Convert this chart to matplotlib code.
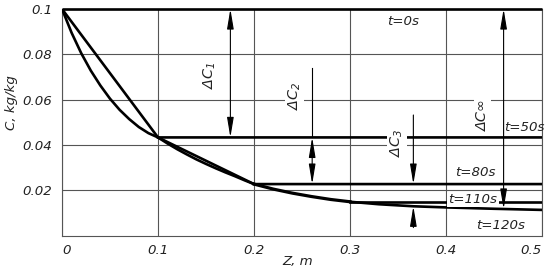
import matplotlib
matplotlib.use("Agg")
import matplotlib.pyplot as plt
from matplotlib import font_manager as fm

# ---------------- data ----------------
x_ticks = [0, 0.1, 0.2, 0.3, 0.4, 0.5]
x_tick_labels = ["0", "0.1", "0.2", "0.3", "0.4", "0.5"]
y_ticks = [0.02, 0.04, 0.06, 0.08, 0.1]
y_tick_labels = ["0.02", "0.04", "0.06", "0.08", "0.1"]

# t = 0 s
z_t0 = [0, 0.5]
c_t0 = [0.1, 0.1]
# t = 50 s
z_t50 = [0, 0.1, 0.5]
c_t50 = [0.1, 0.0433, 0.0433]
# common curved profile in first layer
z_seg1 = [0, 0.01, 0.02, 0.03, 0.04, 0.05, 0.06, 0.07, 0.08, 0.09, 0.1]
c_seg1 = [0.1, 0.0895, 0.0805, 0.0728, 0.0662, 0.0604, 0.0555, 0.0514, 0.0479, 0.0452, 0.0433]
# t = 80 s (after first layer)
z_t80 = [0.1, 0.2, 0.5]
c_t80 = [0.0433, 0.0227, 0.0227]
# curved profile in second layer (t = 110 s, 120 s)
z_seg2 = [0.1, 0.11, 0.12, 0.13, 0.14, 0.15, 0.16, 0.17, 0.18, 0.19, 0.2]
c_seg2 = [0.0433, 0.0406, 0.0381, 0.0358, 0.0336, 0.0316, 0.0297, 0.0279, 0.0262, 0.0244, 0.0227]
# third layer
z_seg3 = [0.2, 0.22, 0.24, 0.26, 0.28, 0.3]
c_seg3 = [0.0227, 0.0205, 0.0187, 0.0172, 0.0159, 0.0149]
# t = 110 s tail
z_t110 = [0.3, 0.5]
c_t110 = [0.0149, 0.0149]
# t = 120 s tail
z_t120 = [0.3, 0.33, 0.366, 0.4, 0.45, 0.5]
c_t120 = [0.0149, 0.0138, 0.0129, 0.0124, 0.0118, 0.0113]

# ---------------- fonts ----------------
names = {f.name for f in fm.fontManager.ttflist}
if "Liberation Sans Narrow" in names:
    FAM = ["Liberation Sans Narrow", "DejaVu Sans"]
    scale = 1.0
else:
    FAM = ["DejaVu Sans"]
    scale = 0.8
plt.rcParams["font.family"] = FAM
plt.rcParams["mathtext.fontset"] = "custom"
plt.rcParams["mathtext.it"] = FAM[0] + ":italic"
plt.rcParams["mathtext.rm"] = FAM[0] + ":italic"

TXT = "#222222"
GRID = "#555555"

fig = plt.figure(figsize=(5.5, 2.74), dpi=100)
ax = fig.add_axes([62 / 550, 1 - 235.5 / 274, 480 / 550, 226.5 / 274])
ax.set_xlim(0, 0.5)
ax.set_ylim(0, 0.1)

for s in ["left", "bottom", "right"]:
    ax.spines[s].set_color(GRID)
    ax.spines[s].set_linewidth(0.8)
ax.spines["top"].set_visible(False)

ax.set_xticks(x_ticks)
ax.set_xticklabels(x_tick_labels)
ax.set_yticks(y_ticks)
ax.set_yticklabels(y_tick_labels)
ax.tick_params(length=0, pad=7, labelsize=12 * scale, labelcolor=TXT)
for lab in ax.get_xticklabels() + ax.get_yticklabels():
    lab.set_fontstyle("italic")
ax.get_xticklabels()[-1].set_horizontalalignment("right")
ax.get_xticklabels()[0].set_horizontalalignment("left")
ax.tick_params(axis="x", pad=6)
ax.grid(True, color=GRID, linewidth=0.8)
ax.set_axisbelow(True)

LW = 1.9
K = "black"
ax.plot(z_t0, c_t0, color=K, lw=LW, clip_on=False, solid_capstyle="butt", zorder=3)
ax.plot(z_t50, c_t50, color=K, lw=LW, zorder=3)
ax.plot(z_seg1, c_seg1, color=K, lw=LW, zorder=3)
ax.plot(z_t80, c_t80, color=K, lw=LW, zorder=3)
ax.plot(z_seg2, c_seg2, color=K, lw=LW, zorder=3)
ax.plot(z_seg3, c_seg3, color=K, lw=LW + 0.4, zorder=3)
ax.plot(z_t110, c_t110, color=K, lw=LW, zorder=3)
ax.plot(z_t120, c_t120, color=K, lw=LW, zorder=3)

# ---------------- dimension arrows ----------------
def dbl(x, y1, y2):
    ax.annotate("", xy=(x, y2), xytext=(x, y1),
                arrowprops=dict(arrowstyle="<|-|>,head_length=1.2,head_width=0.2",
                                color=K, lw=0.8, shrinkA=0, shrinkB=0, mutation_scale=10),
                zorder=4)

def single(x, y_from, y_tip):
    ax.annotate("", xy=(x, y_tip), xytext=(x, y_from),
                arrowprops=dict(arrowstyle="-|>,head_length=1.2,head_width=0.2",
                                color=K, lw=0.8, shrinkA=0, shrinkB=0, mutation_scale=10),
                zorder=4)

dbl(0.1754, 0.1, 0.0433)            # dC1
ax.plot([0.2606, 0.2606], [0.0738, 0.0433], color=K, lw=0.8, zorder=4)
dbl(0.2606, 0.0433, 0.0227)         # dC2
single(0.366, 0.0532, 0.0227)       # dC3 upper
single(0.366, 0.0035, 0.0129)       # dC3 lower
dbl(0.46, 0.1, 0.0117)              # dC_inf

box = dict(facecolor="white", edgecolor="none", pad=1.0)
DS = 13 * scale
ax.text(0.154, 0.0709, r"$\Delta C_1$", rotation=90, ha="center", va="center",
        fontsize=DS, color=TXT, bbox=box, zorder=5)
ax.text(0.242, 0.0616, r"$\Delta C_2$", rotation=90, ha="center", va="center",
        fontsize=DS, color=TXT, bbox=box, zorder=5)
ax.text(0.349, 0.0408, r"$\Delta C_3$", rotation=90, ha="center", va="center",
        fontsize=DS, color=TXT, bbox=box, zorder=5)
ax.text(0.438, 0.0532, "\u0394C\u221e", rotation=90, ha="center", va="center",
        fontsize=DS, style="italic", color=TXT, bbox=box, zorder=5)

TS = 12 * scale
ax.text(0.355, 0.0943, "t=0s", ha="center", va="center", fontsize=TS, style="italic", color=TXT)
ax.text(0.482, 0.0479, "t=50s", ha="center", va="center", fontsize=TS, style="italic", color=TXT)
ax.text(0.431, 0.0276, "t=80s", ha="center", va="center", fontsize=TS, style="italic", color=TXT)
ax.text(0.428, 0.0159, "t=110s", ha="center", va="center", fontsize=TS, style="italic",
        color=TXT, bbox=box, zorder=5)
ax.text(0.457, 0.0046, "t=120s", ha="center", va="center", fontsize=TS, style="italic", color=TXT)

fig.text(12 / 550, 1 - 103 / 274, "C, kg/kg", rotation=90, ha="center", va="center",
         fontsize=12 * scale, style="italic", color=TXT)
fig.text(298 / 550, 1 - 262 / 274, "Z, m", ha="center", va="center",
         fontsize=12 * scale, style="italic", color=TXT)

fig.savefig("out.png", dpi=100)
